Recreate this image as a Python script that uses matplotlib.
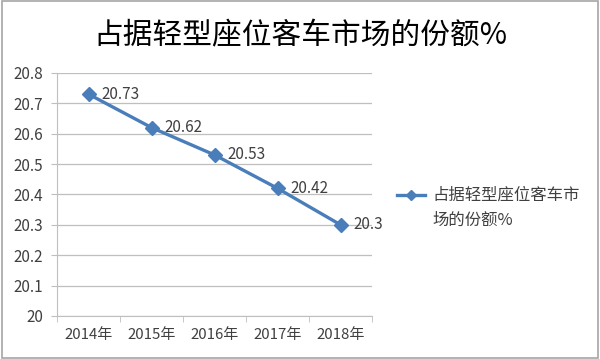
import matplotlib.pyplot as plt
import matplotlib.patches as mpatches
from matplotlib.lines import Line2D
from matplotlib.ticker import FixedLocator

plt.rcParams['font.family'] = ['Noto Sans CJK SC', 'DejaVu Sans']

years = ['2014年', '2015年', '2016年', '2017年', '2018年']
share = [20.73, 20.62, 20.53, 20.42, 20.3]
series_name = '占据轻型座位客车市场的份额%'
legend_lines = ['占据轻型座位客车市', '场的份额%']
y_ticks = [20, 20.1, 20.2, 20.3, 20.4, 20.5, 20.6, 20.7, 20.8]

line_color = '#4A7EBB'
grid_color = '#BFBFBF'
text_color = '#404040'

fig = plt.figure(figsize=(6, 3.59), dpi=100)
ax = fig.add_axes([0.095, 0.12, 0.525, 0.677])

x = list(range(len(years)))
ax.plot(x, share, color=line_color, lw=2.4, marker='D', ms=7)
for xi, v in zip(x, share):
    ax.annotate(f'{v:g}', (xi, v), xytext=(9, 0), textcoords='offset points',
                va='center', ha='left', fontsize=11, color=text_color)

ax.set_xlim(-0.5, len(years) - 0.5)
ax.set_ylim(20, 20.8)
ax.set_yticks(y_ticks)
ax.set_yticklabels([f'{t:g}' for t in y_ticks])
ax.set_xticks(x)
ax.set_xticklabels(years)
ax.xaxis.set_minor_locator(FixedLocator([i - 0.5 for i in range(len(years) + 1)]))
ax.tick_params(axis='x', which='major', length=0, pad=9, labelsize=10.8,
               labelcolor=text_color)
ax.tick_params(axis='x', which='minor', length=4, color=grid_color)
ax.tick_params(axis='y', length=4, color=grid_color, labelsize=11,
               labelcolor=text_color, pad=6)

ax.grid(axis='y', color=grid_color, lw=0.9)
ax.set_axisbelow(True)
for side in ['top', 'right']:
    ax.spines[side].set_visible(False)
for side in ['left', 'bottom']:
    ax.spines[side].set_color(grid_color)

fig.text(0.5, 0.9, series_name, ha='center', va='center', fontsize=21.4,
         color='black')

# legend drawn by hand so the handle lines up with the first text line
fig.add_artist(Line2D([0.662, 0.708], [0.457, 0.457], transform=fig.transFigure,
                      color=line_color, lw=2.4))
fig.add_artist(Line2D([0.685], [0.457], transform=fig.transFigure,
                      color=line_color, marker='D', ms=5, lw=0))
for i, s in enumerate(legend_lines):
    fig.text(0.721, 0.457 - i * 0.07, s, ha='left', va='center',
             fontsize=11.8, color=text_color)

fig.patches.append(mpatches.Rectangle((0.004, 0.004), 0.992, 0.992,
                                      transform=fig.transFigure, fill=False,
                                      edgecolor='#A6A6A6', lw=1.2))

fig.savefig('out.png', dpi=100)
